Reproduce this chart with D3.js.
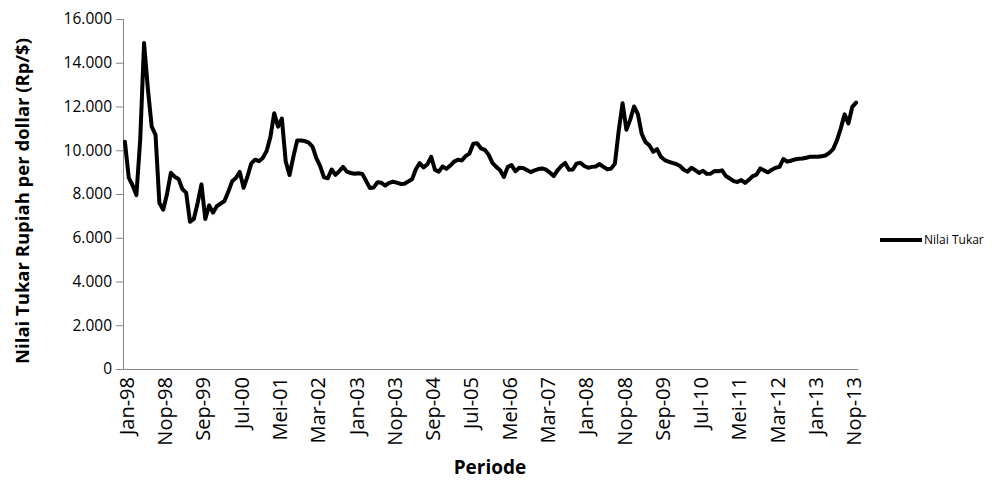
<!DOCTYPE html>
<html>
<head>
<meta charset="utf-8">
<script src="https://cdn.jsdelivr.net/npm/d3@7"></script>
<style>
  body { margin: 0; background: #fff; }
  svg { font-family: "Open Sans", "Noto Sans", sans-serif; }
</style>
</head>
<body>
<svg id="chart" width="998" height="480"></svg>
<script>
const monthNames = ["Jan", "Feb", "Mar", "Apr", "Mei", "Jun", "Jul", "Agu", "Sep", "Okt", "Nop", "Des"]
const years = ["98", "99", "00", "01", "02", "03", "04", "05", "06", "07", "08", "09", "10", "11", "12", "13"]

// Rp per US$, monthly Jan-98 .. Des-13
const rates = [
    10390, 8750, 8400, 7950, 10500, 14900, 12800, 11080, 10700, 7590, 7280, 8000,
    8970, 8790, 8690, 8230, 8060, 6730, 6860, 7590, 8440, 6860, 7480, 7150,
    7440, 7560, 7680, 8100, 8580, 8730, 9010, 8280, 8790, 9400, 9570, 9500,
    9650, 9950, 10600, 11690, 11080, 11450, 9490, 8870, 9700, 10450, 10450, 10420,
    10350, 10170, 9640, 9270, 8760, 8720, 9120, 8870, 9050, 9240, 9020, 8960,
    8930, 8950, 8920, 8600, 8270, 8300, 8540, 8510, 8380, 8510, 8560, 8520,
    8460, 8470, 8570, 8670, 9130, 9410, 9220, 9350, 9700, 9100, 9020, 9260,
    9150, 9300, 9480, 9570, 9530, 9730, 9850, 10300, 10320, 10090, 10020, 9800,
    9420, 9240, 9090, 8780, 9240, 9320, 9040, 9200, 9190, 9100, 9000, 9080,
    9140, 9170, 9110, 8980, 8820, 9080, 9280, 9420, 9110, 9120, 9390, 9430,
    9280, 9200, 9240, 9260, 9370, 9240, 9130, 9160, 9390, 10900, 12150, 10940,
    11400, 12000, 11650, 10750, 10370, 10230, 9930, 10050, 9700, 9550, 9480, 9420,
    9370, 9280, 9110, 9020, 9200, 9090, 8960, 9060, 8920, 8930, 9050, 9040,
    9080, 8820, 8710, 8590, 8550, 8640, 8510, 8650, 8820, 8890, 9170, 9070,
    8990, 9110, 9200, 9240, 9600, 9480, 9520, 9580, 9610, 9620, 9660, 9700,
    9700, 9700, 9730, 9760, 9880, 10050, 10450, 11000, 11640, 11230, 11980, 12180
]

const yTicks = [0, 2000, 4000, 6000, 8000, 10000, 12000, 14000, 16000]
const labelEvery = 10
const seriesName = "Nilai Tukar"
const yTitle = "Nilai Tukar Rupiah per dollar (Rp/$)"
const xTitle = "Periode"

const categories = []
years.forEach(y => monthNames.forEach(m => categories.push(m + "-" + y)))

const plot = {left: 123, right: 858, top: 19, bottom: 369}

const svg = d3.select("#chart")

const x = d3.scaleBand()
    .domain(categories)
    .range([plot.left, plot.right])

const y = d3.scaleLinear()
    .domain([0, 16000])
    .range([plot.bottom, plot.top])

const fmt = v => d3.format(",")(v).replace(/,/g, ".")

// y axis
const yAxis = svg.append("g")
    .attr("transform", `translate(${plot.left},0)`)
    .call(d3.axisLeft(y).tickValues(yTicks).tickSize(7).tickPadding(4).tickFormat(fmt))
yAxis.select(".domain").attr("stroke", "#868686").attr("stroke-width", 1)
yAxis.selectAll(".tick line").attr("stroke", "#868686")
yAxis.selectAll(".tick text")
    .attr("font-size", 15.5)
    .attr("fill", "#000")
    .attr("font-family", "Open Sans")

// x axis
const xAxis = svg.append("g")
    .attr("transform", `translate(0,${plot.bottom})`)
    .call(d3.axisBottom(x)
        .tickValues(categories.filter((d, i) => i % labelEvery === 0))
        .tickSize(0)
        .tickSizeOuter(0))
xAxis.select(".domain").attr("stroke", "#868686").attr("stroke-width", 1)
xAxis.selectAll(".tick text")
    .attr("font-size", 20)
    .attr("fill", "#000")
    .attr("font-family", "Open Sans")
    .attr("text-anchor", "end")
    .attr("transform", "rotate(-90)")
    .attr("x", -8)
    .attr("y", 2)
    .attr("dy", "0.35em")

// series line
const line = d3.line()
    .x((d, i) => x(categories[i]) + x.bandwidth() / 2)
    .y(d => y(d))

svg.append("path")
    .datum(rates)
    .attr("fill", "none")
    .attr("stroke", "#000")
    .attr("stroke-width", 4)
    .attr("stroke-linejoin", "round")
    .attr("stroke-linecap", "round")
    .attr("d", line)

// titles
svg.append("text")
    .attr("transform", `translate(23,${(plot.top + plot.bottom) / 2 + 7}) rotate(-90)`)
    .attr("text-anchor", "middle")
    .attr("dy", "0.35em")
    .attr("font-size", 18.5)
    .attr("font-weight", "bold")
    .text(yTitle)

svg.append("text")
    .attr("x", 490)
    .attr("y", 467)
    .attr("text-anchor", "middle")
    .attr("dy", "0.35em")
    .attr("font-size", 19)
    .attr("font-weight", "bold")
    .text(xTitle)

// legend
const legend = svg.append("g").attr("transform", "translate(880,240)")
legend.append("line")
    .attr("x1", 0).attr("x2", 42)
    .attr("stroke", "#000")
    .attr("stroke-width", 4)
legend.append("text")
    .attr("x", 44)
    .attr("dy", "0.35em")
    .attr("font-size", 12)
    .text(seriesName)
</script>
</body>
</html>
